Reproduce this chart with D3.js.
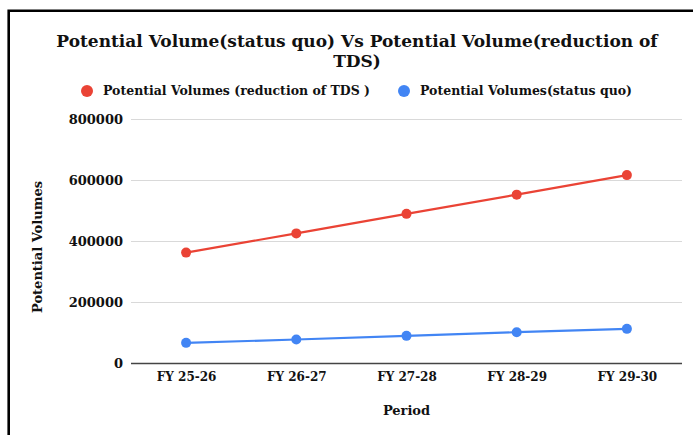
<!DOCTYPE html>
<html>
<head>
<meta charset="utf-8">
<script src="https://cdn.jsdelivr.net/npm/d3@7"></script>
<style>
  body { margin: 0; background: #fff; }
  text { font-family: Georgia, "DejaVu Serif", serif; font-weight: bold; fill: #111; }
</style>
</head>
<body>
<div id="chart"></div>
<script>
// data
var periods = ["FY 25-26", "FY 26-27", "FY 27-28", "FY 28-29", "FY 29-30"];
var reductionTDS = [362000, 425000, 489000, 552000, 616000];
var statusQuo = [66000, 77000, 89000, 101000, 112000];
var yTicks = [0, 200000, 400000, 600000, 800000];

var seriesNames = ["Potential Volumes (reduction of TDS )", "Potential Volumes(status quo)"];
var seriesColors = ["#ea4335", "#4285f4"];

var W = 693, H = 435;
var margin = { top: 119, right: 11, bottom: 72, left: 131 };

var svg = d3.select("#chart").append("svg")
  .attr("width", W)
  .attr("height", H);

// frame (only top and left edges are visible in the crop)
svg.append("path")
  .attr("d", "M8.7," + H + "V10.7H" + W)
  .attr("fill", "none")
  .attr("stroke", "#000")
  .attr("stroke-width", 2.6);

var x = d3.scalePoint()
  .domain(periods)
  .range([margin.left, W - margin.right])
  .padding(0.5);

var y = d3.scaleLinear()
  .domain([0, 800000])
  .range([H - margin.bottom, margin.top]);

// gridlines + y labels
var yAxis = svg.append("g")
  .attr("transform", "translate(" + margin.left + ",0)")
  .call(d3.axisLeft(y).tickValues(yTicks).tickSize(-(W - margin.right - margin.left)).tickPadding(8).tickFormat(d3.format("d")));
yAxis.select(".domain").remove();
yAxis.selectAll(".tick line")
  .attr("stroke", function (d) { return d === 0 ? "#444" : "#d9d9d9"; })
  .attr("stroke-width", function (d) { return d === 0 ? 1.3 : 1; });
yAxis.selectAll(".tick text")
  .style("font-size", "13px")
  .attr("fill", "#111");

// x labels
var xAxis = svg.append("g")
  .attr("transform", "translate(0," + (H - margin.bottom) + ")")
  .call(d3.axisBottom(x).tickSize(0).tickPadding(9));
xAxis.select(".domain").remove();
xAxis.selectAll(".tick text")
  .style("font-size", "12px")
  .attr("fill", "#111");

// lines and points
var line = d3.line()
  .x(function (d, i) { return x(periods[i]); })
  .y(function (d) { return y(d); });

[reductionTDS, statusQuo].forEach(function (vals, s) {
  svg.append("path")
    .datum(vals)
    .attr("d", line)
    .attr("fill", "none")
    .attr("stroke", seriesColors[s])
    .attr("stroke-width", 2.2);
  svg.selectAll(".pt" + s)
    .data(vals)
    .enter()
    .append("circle")
    .attr("cx", function (d, i) { return x(periods[i]); })
    .attr("cy", function (d) { return y(d); })
    .attr("r", 5)
    .attr("fill", seriesColors[s]);
});

// title
svg.append("text")
  .attr("x", 357).attr("y", 47)
  .attr("text-anchor", "middle")
  .style("font-size", "17px")
  .text("Potential Volume(status quo) Vs Potential Volume(reduction of");
svg.append("text")
  .attr("x", 357).attr("y", 67)
  .attr("text-anchor", "middle")
  .style("font-size", "17px")
  .text("TDS)");

// legend
var legendX = [87, 404];
seriesNames.forEach(function (name, i) {
  svg.append("circle")
    .attr("cx", legendX[i]).attr("cy", 91)
    .attr("r", 6)
    .attr("fill", seriesColors[i]);
  svg.append("text")
    .attr("x", legendX[i] + 16).attr("y", 95)
    .style("font-size", "12.5px")
    .text(name);
});

// axis titles
svg.append("text")
  .attr("transform", "translate(42,247) rotate(-90)")
  .attr("text-anchor", "middle")
  .style("font-size", "13px")
  .text("Potential Volumes");

svg.append("text")
  .attr("x", (margin.left + W - margin.right) / 2)
  .attr("y", 415)
  .attr("text-anchor", "middle")
  .style("font-size", "13px")
  .text("Period");
</script>
</body>
</html>
